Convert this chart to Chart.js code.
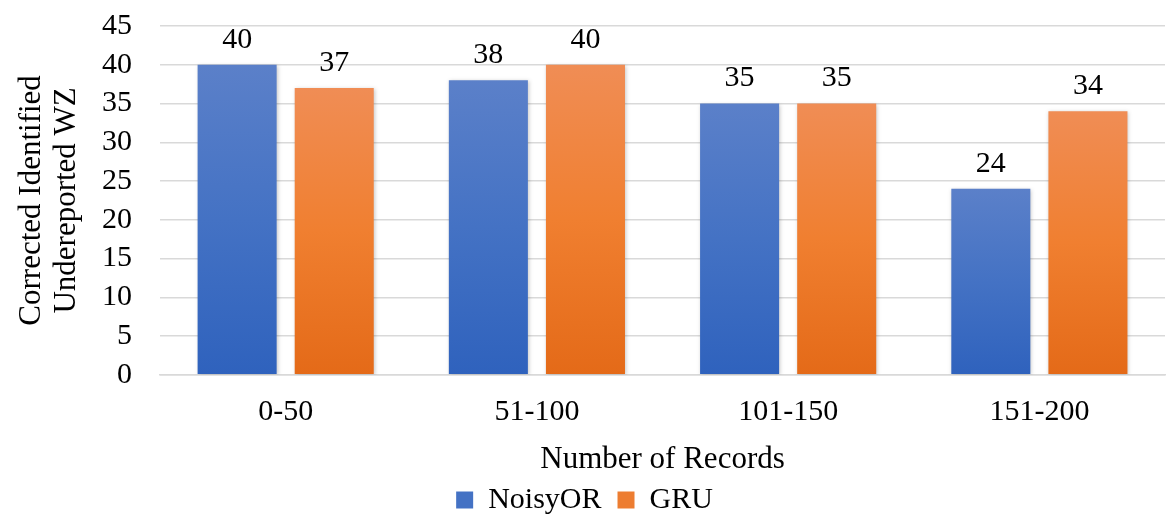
<!DOCTYPE html>
<html>
<head>
<meta charset="utf-8">
<script src="https://cdn.jsdelivr.net/npm/chart.js@4.4.1/dist/chart.umd.min.js"></script>
<style>
  html, body { margin: 0; padding: 0; background: #fff; }
  #wrap { width: 1169px; height: 515px; }
</style>
</head>
<body>
<div id="wrap"><canvas id="chart" width="1169" height="515"></canvas></div>
<script>
const categories = ["0-50", "51-100", "101-150", "151-200"];
const noisyOR = [40, 38, 35, 24];
const gru = [37, 40, 35, 34];
const yTicks = [0, 5, 10, 15, 20, 25, 30, 35, 40, 45];

const FONT = "'Liberation Serif', 'Times New Roman', serif";

// vertical gradient per bar, lighter at the top
function barGradient(top, mid, bottom) {
  return (ctx) => {
    const chart = ctx.chart;
    const area = chart.chartArea;
    if (!area || ctx.type !== "data") return mid;
    const y0 = chart.scales.y.getPixelForValue(ctx.raw);
    const y1 = chart.scales.y.getPixelForValue(0);
    if (!isFinite(y0) || y0 === y1) return mid;
    const g = chart.ctx.createLinearGradient(0, y0, 0, y1);
    g.addColorStop(0, top);
    g.addColorStop(0.5, mid);
    g.addColorStop(1, bottom);
    return g;
  };
}

// value labels above each bar
const valueLabels = {
  id: "valueLabels",
  afterDatasetsDraw(chart) {
    const ctx = chart.ctx;
    ctx.save();
    ctx.font = "30px " + FONT;
    ctx.fillStyle = "#000";
    ctx.textAlign = "center";
    ctx.textBaseline = "bottom";
    chart.data.datasets.forEach((ds, i) => {
      chart.getDatasetMeta(i).data.forEach((bar, j) => {
        ctx.fillText(ds.data[j], bar.x, bar.y - 10);
      });
    });
    ctx.restore();
  }
};

// soft shadow behind bars
const barShadow = {
  id: "barShadow",
  beforeDatasetDraw(chart) {
    const ctx = chart.ctx;
    ctx.save();
    ctx.shadowColor = "rgba(0,0,0,0.22)";
    ctx.shadowBlur = 4;
    ctx.shadowOffsetX = 1;
    ctx.shadowOffsetY = 1;
  },
  afterDatasetDraw(chart) {
    chart.ctx.restore();
  }
};

new Chart(document.getElementById("chart"), {
  type: "bar",
  data: {
    labels: categories,
    datasets: [
      {
        label: "NoisyOR",
        data: noisyOR,
        backgroundColor: barGradient("#5B80C9", "#4472C4", "#2F62BD"),
        categoryPercentage: 0.773,
        barPercentage: 0.814
      },
      {
        label: "GRU",
        data: gru,
        backgroundColor: barGradient("#F08D55", "#F07F30", "#E46A18"),
        categoryPercentage: 0.773,
        barPercentage: 0.814
      }
    ]
  },
  options: {
    responsive: false,
    animation: false,
    layout: { padding: { top: 0, right: 4, left: 4, bottom: -10 } },
    plugins: {
      legend: {
        position: "bottom",
        labels: {
          font: { family: FONT, size: 30 },
          color: "#000",
          boxWidth: 17,
          boxHeight: 17,
          padding: 16,
          generateLabels(chart) {
            const cols = ["#4472C4", "#ED7D31"];
            return chart.data.datasets.map((ds, i) => ({
              text: ds.label,
              fillStyle: cols[i],
              strokeStyle: cols[i],
              lineWidth: 0,
              datasetIndex: i
            }));
          }
        }
      },
      tooltip: { enabled: false }
    },
    scales: {
      x: {
        grid: { display: false },
        border: { color: "#d9d9d9", width: 1.5 },
        ticks: { font: { family: FONT, size: 30 }, color: "#000", padding: 11 },
        title: {
          display: true,
          text: "Number of Records",
          font: { family: FONT, size: 31 },
          color: "#000",
          padding: { top: 0, bottom: -9 }
        }
      },
      y: {
        min: 0,
        max: 45,
        afterBuildTicks(axis) {
          axis.ticks = yTicks.map(v => ({ value: v }));
        },
        // tick padding also pads the top; keep only room for the "45" label
        afterFit(axis) {
          axis.paddingTop = 26;
        },
        grid: { color: "#d9d9d9", lineWidth: 1.5, drawTicks: false },
        border: { display: false },
        ticks: { font: { family: FONT, size: 30 }, color: "#000", padding: 28, autoSkip: false },
        title: {
          display: true,
          text: ["Corrected Identified", "Undereported WZ"],
          font: { family: FONT, size: 31, lineHeight: 1.13 },
          color: "#000",
          padding: { top: 10, bottom: -10 }
        }
      }
    }
  },
  plugins: [barShadow, valueLabels]
});
</script>
</body>
</html>
